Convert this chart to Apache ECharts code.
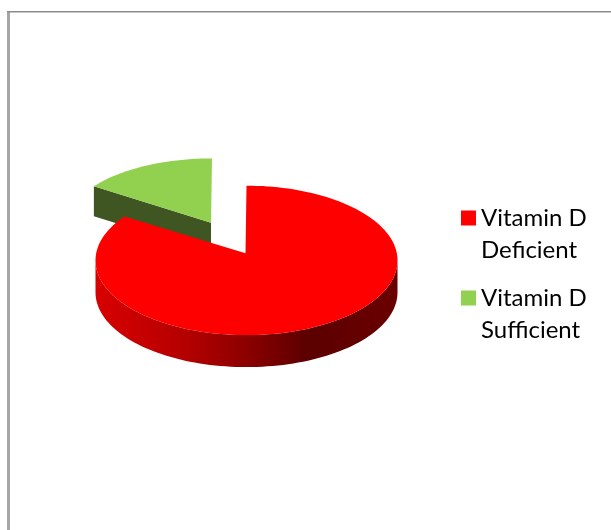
<!DOCTYPE html>
<html>
<head>
<meta charset="utf-8">
<style>
  html, body { margin: 0; padding: 0; background: #fff; }
  #chart { width: 611px; height: 530px; }
</style>
</head>
<body>
<div id="chart"></div>
<script src="https://cdn.jsdelivr.net/npm/echarts@6/dist/echarts.min.js"></script>
<script>
var categories = ['Vitamin D\nDeficient', 'Vitamin D\nSufficient'];
var values = [85, 15];
var topColors = ['#ff0000', '#92d050'];

var total = values[0] + values[1];

// the two slices are drawn as tilted discs, so each one has its own ellipse
var discs = [
  { cx: 246.5, cy: 260.4, rx: 151, ry: 74.7, apexX: 245.5, apexY: 253.3, depth: 32 },
  { cx: 212, cy: 226, rx: 146, ry: 67.6, apexX: 211, apexY: 222.7, depth: 30 }
];

function rimPoint(d, deg, down) {
  var a = deg * Math.PI / 180;
  return [d.cx + d.rx * Math.sin(a), d.cy - d.ry * Math.cos(a) + (down || 0)];
}

function arc(d, from, to, down) {
  var pts = [];
  var steps = Math.max(2, Math.ceil(Math.abs(to - from) / 2));
  for (var i = 0; i <= steps; i++) {
    pts.push(rimPoint(d, from + (to - from) * i / steps, down));
  }
  return pts;
}

function renderDeficient(params, api) {
  var d = discs[0];
  var end = 360 * api.value(0) / total;
  var sideEnd = Math.min(end, 270);
  var side = arc(d, 90, sideEnd, 0).concat(arc(d, sideEnd, 90, d.depth));
  var top = [[d.apexX, d.apexY]].concat(arc(d, 0, end, 0));
  return {
    type: 'group',
    children: [
      {
        type: 'polygon',
        shape: { points: side },
        style: {
          fill: {
            type: 'linear', x: 0, y: 0, x2: 1, y2: 0,
            colorStops: [
              { offset: 0, color: '#d80000' },
              { offset: 0.3, color: '#b40000' },
              { offset: 0.5, color: '#8c0000' },
              { offset: 0.7, color: '#5c0000' },
              { offset: 1, color: '#6a0000' }
            ]
          }
        }
      },
      { type: 'polygon', shape: { points: top }, style: { fill: topColors[0] } }
    ]
  };
}

function renderSufficient(params, api) {
  var d = discs[1];
  var start = 360 - 360 * api.value(0) / total;
  var tip = rimPoint(d, start, 0);
  var tipDown = rimPoint(d, start, d.depth);
  var cut = [tip, [d.apexX, d.apexY], [d.apexX, d.apexY + d.depth], tipDown];
  var top = [[d.apexX, d.apexY]].concat(arc(d, start, 360, 0));
  return {
    type: 'group',
    children: [
      { type: 'polygon', shape: { points: cut }, style: { fill: '#3f5522' } },
      { type: 'polygon', shape: { points: top }, style: { fill: topColors[1] } }
    ]
  };
}

var myChart = echarts.init(document.getElementById('chart'), null, { renderer: 'canvas' });

var option = {
  animation: false,
  backgroundColor: '#ffffff',
  legend: {
    orient: 'vertical',
    left: 461,
    top: 170,
    padding: 0,
    itemWidth: 15,
    itemHeight: 15,
    itemGap: -16,
    icon: 'rect',
    data: categories,
    // blank first line so the swatch sits level with "Vitamin D"
    formatter: function (name) {
      return ' \n' + name;
    },
    textStyle: {
      fontFamily: 'Lato, sans-serif',
      fontSize: 24,
      lineHeight: 32,
      color: '#000000'
    },
    selectedMode: false
  },
  graphic: [
    { type: 'rect', shape: { x: 7, y: 11, width: 3, height: 519 }, style: { fill: '#a6a6a6' } },
    { type: 'rect', shape: { x: 7, y: 11, width: 604, height: 1.5 }, style: { fill: '#8c8c8c' } }
  ],
  series: [
    {
      name: categories[0],
      type: 'custom',
      coordinateSystem: 'none',
      z: 3,
      itemStyle: { color: topColors[0] },
      renderItem: renderDeficient,
      data: [values[0]]
    },
    {
      name: categories[1],
      type: 'custom',
      coordinateSystem: 'none',
      z: 2,
      itemStyle: { color: topColors[1] },
      renderItem: renderSufficient,
      data: [values[1]]
    }
  ]
};

myChart.setOption(option);
window.addEventListener('resize', myChart.resize);
</script>
</body>
</html>
